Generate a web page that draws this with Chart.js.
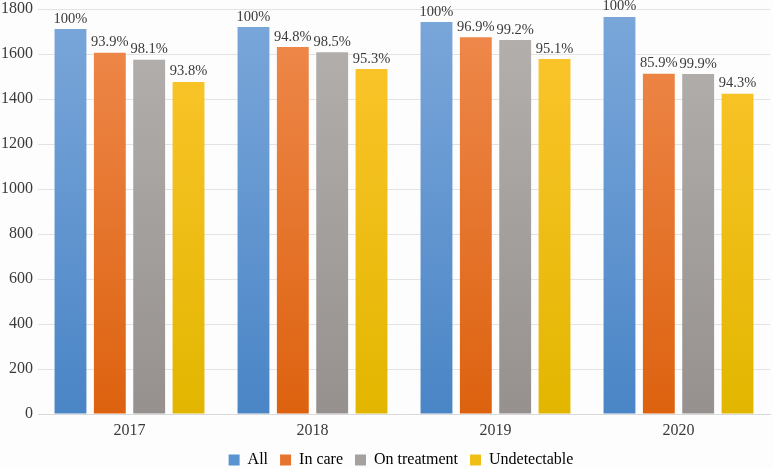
<!DOCTYPE html>
<html lang="en">

<head>
    <meta charset="UTF-8">
    <title>Care cascade</title>
    <style>
        html, body {
            margin: 0;
            padding: 0;
            background: #fdfdfd;
        }
        #box {
            width: 773px;
            height: 468px;
        }
    </style>
</head>

<body>
    <div id="box">
        <canvas id="myChart"></canvas>
    </div>

    <script src="https://cdn.jsdelivr.net/npm/chart.js"></script>

    <script>
        // data
        var years = ['2017', '2018', '2019', '2020'];
        var seriesNames = ['All', 'In care', 'On treatment', 'Undetectable'];

        var allValues = [1711, 1720, 1742, 1765];
        var inCareValues = [1606, 1631, 1675, 1512];
        var onTreatValues = [1574, 1608, 1662, 1511];
        var undetectValues = [1476, 1533, 1578, 1423];

        var allLabels = ['100%', '100%', '100%', '100%'];
        var inCareLabels = ['93.9%', '94.8%', '96.9%', '85.9%'];
        var onTreatLabels = ['98.1%', '98.5%', '99.2%', '99.9%'];
        var undetectLabels = ['93.8%', '95.3%', '95.1%', '94.3%'];

        var yTicks = [0, 200, 400, 600, 800, 1000, 1200, 1400, 1600, 1800];

        // top / bottom colour of each bar gradient
        var colTop = ['#7ba7da', '#ef8a4e', '#b4b1af', '#fdc62f'];
        var colBottom = ['#4a85c6', '#dd620f', '#96918e', '#e2b600'];

        var fontName = "'Liberation Serif', 'DejaVu Serif', serif";

        function gradFor(i) {
            return function (context) {
                var area = context.chart.chartArea;
                if (!area) {
                    return colBottom[i];
                }
                var g = context.chart.ctx.createLinearGradient(0, area.top, 0, area.bottom);
                g.addColorStop(0, colTop[i]);
                g.addColorStop(1, colBottom[i]);
                return g;
            };
        }

        var allVals = [allValues, inCareValues, onTreatValues, undetectValues];
        var allPct = [allLabels, inCareLabels, onTreatLabels, undetectLabels];

        var datasets = [];
        for (var i = 0; i < seriesNames.length; i++) {
            datasets.push({
                label: seriesNames[i],
                data: allVals[i],
                pct: allPct[i],
                backgroundColor: gradFor(i),
                borderWidth: 0,
                categoryPercentage: 0.86,
                barPercentage: 0.81
            });
        }

        // write the percentage above each bar
        var barLabels = {
            id: 'barLabels',
            afterDatasetsDraw: function (chart) {
                var c = chart.ctx;
                c.save();
                c.font = '14.5px ' + fontName;
                c.fillStyle = '#3a3a3a';
                c.textAlign = 'center';
                c.textBaseline = 'bottom';
                chart.data.datasets.forEach(function (ds, di) {
                    chart.getDatasetMeta(di).data.forEach(function (bar, j) {
                        c.fillText(ds.pct[j], bar.x, bar.y - 3);
                    });
                });
                c.restore();
            }
        };

        // legend is centred under the plot, not the whole canvas
        var legendShift = {
            id: 'legendShift',
            afterLayout: function (chart) {
                if (chart.legend) {
                    chart.legend.left += 16;
                    chart.legend.right += 16;
                    chart.legend.top -= 2;
                    chart.legend.bottom -= 2;
                }
            }
        };

        // legend boxes should be solid, not gradients
        var legendColors = ['#5b93d0', '#e6732e', '#a5a19f', '#f0bf17'];

        const ctx = document.getElementById('myChart');

        var myChart = new Chart(ctx, {
            type: 'bar',
            data: {
                labels: years,
                datasets: datasets
            },
            options: {
                responsive: true,
                maintainAspectRatio: false,
                animation: false,
                layout: {
                    padding: { top: 0, right: 3, left: 0, bottom: -12 }
                },
                scales: {
                    x: {
                        grid: { display: false, drawTicks: false },
                        border: { color: '#d9d9d9' },
                        afterFit: function (axis) {
                            axis.height = 28;
                        },
                        ticks: {
                            color: '#3a3a3a',
                            font: { family: fontName, size: 16 },
                            padding: 7
                        }
                    },
                    y: {
                        min: 0,
                        max: 1800,
                        afterBuildTicks: function (axis) {
                            axis.ticks = yTicks.map(function (v) { return { value: v }; });
                        },
                        afterFit: function (axis) {
                            axis.width = 38;
                            axis.paddingTop = 9;
                        },
                        grid: {
                            color: '#e3e3e3',
                            drawTicks: false
                        },
                        border: { display: false },
                        ticks: {
                            color: '#3a3a3a',
                            font: { family: fontName, size: 16 },
                            padding: 5,
                            callback: function (v) { return String(v); }
                        }
                    }
                },
                plugins: {
                    legend: {
                        position: 'bottom',
                        labels: {
                            color: '#3a3a3a',
                            font: { family: fontName, size: 16 },
                            boxWidth: 11,
                            boxHeight: 11,
                            padding: 12,
                            generateLabels: function (chart) {
                                return chart.data.datasets.map(function (ds, k) {
                                    return {
                                        text: ds.label,
                                        fillStyle: legendColors[k],
                                        strokeStyle: legendColors[k],
                                        lineWidth: 0,
                                        datasetIndex: k
                                    };
                                });
                            }
                        }
                    },
                    tooltip: { enabled: false }
                }
            },
            plugins: [barLabels, legendShift]
        });
    </script>

</body>

</html>
